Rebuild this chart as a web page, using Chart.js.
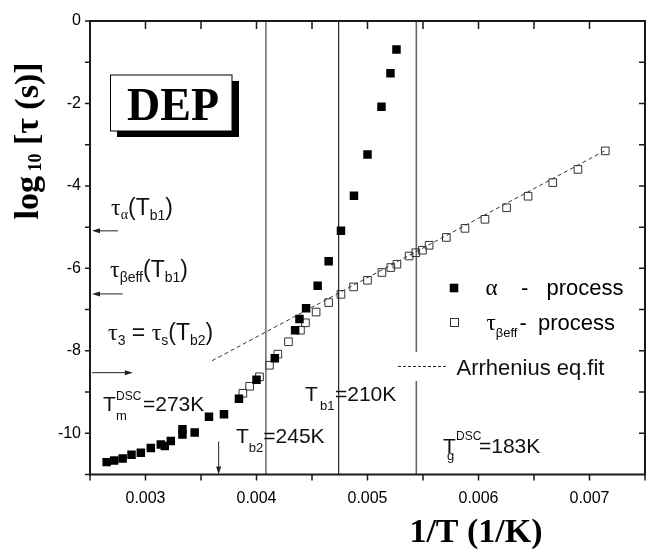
<!DOCTYPE html>
<html>
<head>
<meta charset="utf-8">
<script src="https://cdn.jsdelivr.net/npm/chart.js@4.4.1/dist/chart.umd.min.js"></script>
<style>
  html, body { margin: 0; padding: 0; background: #fff; }
  #wrap { width: 647px; height: 550px; position: relative; }
</style>
</head>
<body>
<div id="wrap"><canvas id="chart"></canvas></div>
<script>
// alpha process (filled squares)
const alphaX = [0.00265, 0.002718, 0.002794, 0.002874, 0.002958, 0.003048, 0.003138, 0.003174, 0.003228,
  0.003333, 0.003333, 0.003443, 0.003572, 0.003707, 0.003842, 0.004, 0.004165, 0.004348, 0.004387,
  0.004447, 0.004551, 0.00465, 0.004761, 0.004878, 0.0050, 0.005126, 0.005207, 0.005261];
const alphaY = [-10.70, -10.66, -10.61, -10.52, -10.47, -10.36, -10.27, -10.31, -10.19,
  -9.90, -10.03, -9.98, -9.60, -9.54, -9.16, -8.70, -8.18, -7.50, -7.23,
  -6.97, -6.42, -5.83, -5.09, -4.24, -3.24, -2.08, -1.27, -0.69];

// tau beta_eff process (open squares)
const betaX = [0.003877, 0.003938, 0.004027, 0.004117, 0.004192, 0.004288, 0.004396, 0.004441, 0.004537,
  0.00465, 0.004761, 0.004875, 0.0050, 0.00513, 0.00521, 0.005265, 0.005375, 0.005435, 0.005495,
  0.005555, 0.00571, 0.005878, 0.006058, 0.006253, 0.006447, 0.006669, 0.006896, 0.007142];
const betaY = [-9.03, -8.86, -8.63, -8.35, -8.08, -7.78, -7.50, -7.32, -7.06,
  -6.83, -6.63, -6.45, -6.29, -6.10, -5.98, -5.90, -5.70, -5.62, -5.56,
  -5.44, -5.25, -5.03, -4.81, -4.53, -4.25, -3.92, -3.60, -3.15];

// Arrhenius fit line ends
const fitX = [0.0036, 0.00715];
const fitY = [-8.24, -3.13];

// Tb2 = 245K, Tb1 = 210K, Tg = 183K
const tempLines = [0.004085, 0.00474, 0.00544];

const xLabels = [0.003, 0.004, 0.005, 0.006, 0.007];
const yLabels = [-10, -8, -6, -4, -2, 0];

// arrows [x1, y1, x2, y2] in data units, head at the second point
const arrows = [
  [0.002752, -5.09, 0.002518, -5.09],
  [0.002794, -6.62, 0.002518, -6.62],
  [0.002518, -8.53, 0.002886, -8.53],
  [0.003659, -10.2, 0.003659, -11]
];

const SANS = 'Arial, "Liberation Sans", sans-serif';
const SERIF = '"Times New Roman", "Liberation Serif", serif';

const pts = (xs, ys) => xs.map((x, i) => ({ x: x, y: ys[i] }));
const lineColors = ['#444', '#222', '#666'];
const lineWidths = [1.2, 1.2, 1.6];

// draws a row of text pieces: [text, font, dy, x(optional, absolute)]
function rich(ctx, x, y, parts) {
  parts.forEach(p => {
    ctx.font = p[1];
    const px = p[3] !== undefined ? p[3] : x;
    ctx.fillText(p[0], px, y + (p[2] || 0));
    x = px + ctx.measureText(p[0]).width;
  });
}

function arrow(ctx, x1, y1, x2, y2) {
  const a = Math.atan2(y2 - y1, x2 - x1);
  ctx.beginPath();
  ctx.moveTo(x1, y1);
  ctx.lineTo(x2 - 5 * Math.cos(a), y2 - 5 * Math.sin(a));
  ctx.stroke();
  ctx.beginPath();
  ctx.moveTo(x2, y2);
  ctx.lineTo(x2 - 8 * Math.cos(a) + 2.5 * Math.sin(a), y2 - 8 * Math.sin(a) - 2.5 * Math.cos(a));
  ctx.lineTo(x2 - 8 * Math.cos(a) - 2.5 * Math.sin(a), y2 - 8 * Math.sin(a) + 2.5 * Math.cos(a));
  ctx.closePath();
  ctx.fill();
}

const decor = {
  id: 'decor',
  afterDraw(chart) {
    const ctx = chart.ctx, a = chart.chartArea;
    const xs = chart.scales.x, ys = chart.scales.y;
    ctx.save();
    ctx.strokeStyle = '#1a1a1a';
    ctx.fillStyle = '#000';

    // frame
    ctx.lineWidth = 2;
    ctx.strokeRect(a.left, a.top, a.right - a.left, a.bottom - a.top);

    // ticks
    ctx.lineWidth = 1.5;
    ctx.beginPath();
    xs.ticks.forEach(t => {
      const px = xs.getPixelForValue(t.value);
      ctx.moveTo(px, a.bottom); ctx.lineTo(px, a.bottom + 6);
      if (px > a.left + 2 && px < a.right - 2) {
        ctx.moveTo(px, a.top); ctx.lineTo(px, a.top + 8);
      }
    });
    ys.ticks.forEach(t => {
      const py = ys.getPixelForValue(t.value);
      ctx.moveTo(a.left, py); ctx.lineTo(a.left - 5, py);
      if (py > a.top + 2 && py < a.bottom - 2) {
        ctx.moveTo(a.right, py); ctx.lineTo(a.right - 6, py);
      }
    });
    ctx.stroke();

    // arrows
    ctx.lineWidth = 1;
    ctx.strokeStyle = '#222';
    ctx.fillStyle = '#222';
    arrows.forEach(r => arrow(ctx,
      xs.getPixelForValue(r[0]), ys.getPixelForValue(r[1]),
      xs.getPixelForValue(r[2]), ys.getPixelForValue(r[3])));

    // DEP box
    ctx.fillStyle = '#000';
    ctx.fillRect(117, 81, 122, 56);
    ctx.fillStyle = '#fff';
    ctx.fillRect(110.5, 75, 121.5, 56);
    ctx.lineWidth = 1;
    ctx.strokeStyle = '#000';
    ctx.strokeRect(110.5, 75, 121.5, 56);
    ctx.fillStyle = '#000';
    ctx.font = 'bold 46px ' + SERIF;
    ctx.textAlign = 'center';
    ctx.textBaseline = 'alphabetic';
    ctx.fillText('DEP', 173, 120);

    // annotations
    ctx.textAlign = 'left';
    ctx.fillStyle = '#111';
    const big = '23px ' + SANS, tauF = '24px ' + SERIF, sub = '14px ' + SANS, subS = '14px ' + SERIF;
    rich(ctx, 111, 215, [['\u03c4', tauF], ['\u03b1', subS, 4], ['(', big], ['T', big], ['b1', sub, 5], [')', big]]);
    rich(ctx, 110, 277, [['\u03c4', tauF], ['\u03b2eff', sub, 5], ['(', big], ['T', big], ['b1', sub, 5], [')', big]]);
    rich(ctx, 108, 340, [['\u03c4', tauF], ['3', sub, 5], [' = ', big], ['\u03c4', tauF], ['s', sub, 5], ['(', big], ['T', big], ['b2', sub, 5], [')', big]]);

    const tF = '21px ' + SANS, sF = '13px ' + SANS, supF = '12px ' + SANS;
    rich(ctx, 103, 411, [['T', tF], ['m', sF, 9, 116], ['DSC', supF, -11, 116], ['=273K', tF, 0, 143]]);
    rich(ctx, 236, 443, [['T', tF], ['b2', sF, 9], ['=245K', tF]]);
    rich(ctx, 305, 401, [['T', tF], ['b1', sF, 9, 320], ['=210K', tF, 0, 335]]);
    rich(ctx, 443, 453, [['T', tF], ['g', sF, 7, 447], ['DSC', supF, -13, 456], ['=183K', tF, 0, 479]]);

    // legend
    const lf = '22px ' + SANS;
    ctx.fillStyle = '#000';
    ctx.fillRect(449.7, 283.7, 8.6, 8.6);
    rich(ctx, 485.5, 295, [['\u03b1', '23px ' + SERIF]]);
    rich(ctx, 521, 295, [['-', lf]]);
    rich(ctx, 546.5, 295, [['process', lf]]);
    ctx.strokeStyle = '#333';
    ctx.lineWidth = 1;
    ctx.strokeRect(450.5, 318.5, 8, 8);
    rich(ctx, 486.5, 329.5, [['\u03c4', '23px ' + SERIF], ['\u03b2eff', sF, 7]]);
    rich(ctx, 519.5, 329.5, [['-', lf]]);
    rich(ctx, 538, 329.5, [['process', lf]]);
    ctx.fillStyle = '#fff';
    ctx.fillRect(395, 352, 238, 29);
    ctx.strokeStyle = '#222';
    ctx.setLineDash([3, 2]);
    ctx.beginPath();
    ctx.moveTo(398, 366.5); ctx.lineTo(448, 366.5);
    ctx.stroke();
    ctx.setLineDash([]);
    ctx.fillStyle = '#111';
    rich(ctx, 456.5, 375, [['Arrhenius eq.fit', lf]]);

    // axis titles
    ctx.fillStyle = '#000';
    ctx.font = 'bold 34px ' + SERIF;
    ctx.textAlign = 'center';
    ctx.fillText('1/T (1/K)', 476, 541.5);

    ctx.translate(38, 141);
    ctx.rotate(-Math.PI / 2);
    ctx.textAlign = 'left';
    const p1 = 'log', p2 = ' 10', p3 = ' [\u03c4 (s)]';
    ctx.font = 'bold 34px ' + SERIF;
    const w1 = ctx.measureText(p1).width, w3 = ctx.measureText(p3).width;
    ctx.font = 'bold 18px ' + SERIF;
    const w2 = ctx.measureText(p2).width;
    rich(ctx, -(w1 + w2 + w3) / 2, 0, [[p1, 'bold 34px ' + SERIF], [p2, 'bold 18px ' + SERIF, 3], [p3, 'bold 34px ' + SERIF]]);
    ctx.restore();
  }
};

const datasets = [
  { data: pts(alphaX, alphaY), pointStyle: 'rect', pointRadius: 6, backgroundColor: '#000',
    borderColor: '#000', borderWidth: 0, showLine: false, order: 0 },
  { data: pts(betaX, betaY), pointStyle: 'rect', pointRadius: 5.4, backgroundColor: 'rgba(0,0,0,0)',
    borderColor: '#333', borderWidth: 1, showLine: false, order: 1 },
  { data: pts(fitX, fitY), showLine: true, borderColor: '#333', borderWidth: 1,
    borderDash: [4, 3], pointRadius: 0, order: 2 }
].concat(tempLines.map((t, i) => ({
  data: [{ x: t, y: -11 }, { x: t, y: 0 }], showLine: true, pointRadius: 0,
  borderColor: lineColors[i], borderWidth: lineWidths[i], order: 3
})));

new Chart(document.getElementById('chart'), {
  type: 'scatter',
  data: { datasets: datasets },
  options: {
    responsive: true,
    maintainAspectRatio: false,
    animation: false,
    events: [],
    layout: { autoPadding: false, padding: { top: 21, right: 2, left: 0, bottom: 0 } },
    plugins: { legend: { display: false }, tooltip: { enabled: false } },
    scales: {
      x: {
        type: 'linear', min: 0.0025, max: 0.0075,
        grid: { display: false, drawTicks: false },
        border: { display: false },
        afterFit: s => { s.height = 75.5; s.paddingLeft = 0; s.paddingRight = 0; },
        ticks: {
          stepSize: 0.0005, autoSkip: false, maxRotation: 0, padding: 14,
          color: '#000', font: { family: SANS, size: 16 },
          callback: v => xLabels.some(m => Math.abs(m - v) < 1e-9) ? v.toFixed(3) : ''
        }
      },
      y: {
        min: -11, max: 0,
        grid: { display: false, drawTicks: false },
        border: { display: false },
        afterFit: s => { s.width = 90; s.paddingTop = 0; s.paddingBottom = 0; },
        ticks: {
          stepSize: 1, autoSkip: false, padding: 9,
          color: '#000', font: { family: SANS, size: 16 },
          callback: v => yLabels.includes(v) ? String(v) : ''
        }
      }
    }
  },
  plugins: [decor]
});
</script>
</body>
</html>
